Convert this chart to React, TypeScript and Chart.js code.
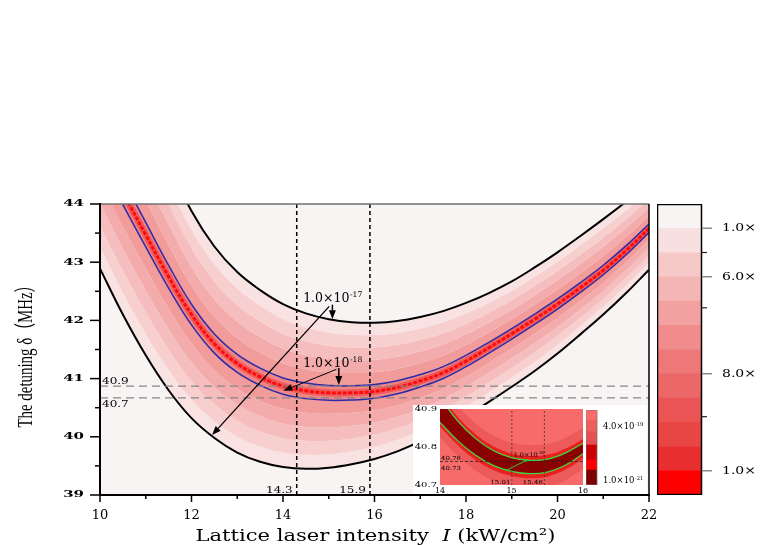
import React, { useEffect, useRef } from "react";
import { Chart, registerables } from "chart.js";
Chart.register(...registerables);

// ---------------- data ----------------
const intensity = [10, 10.5, 11, 11.5, 12, 12.5, 13, 13.5, 14, 14.5, 15, 15.5, 16, 16.5, 17, 17.5, 18, 18.5, 19, 19.5, 20, 20.5, 21, 21.5, 22];
const resonanceCenter = [44.95, 44.2, 43.47, 42.75, 42.1, 41.6, 41.26, 41.03, 40.87, 40.79, 40.755, 40.755, 40.78, 40.85, 40.96, 41.1, 41.3, 41.53, 41.77, 42.02, 42.28, 42.56, 42.86, 43.2, 43.58];
const contourUpper17 = [47.4, 46.5, 45.6, 44.7, 43.88, 43.27, 42.83, 42.52, 42.28, 42.12, 42.02, 41.97, 41.96, 41.99, 42.06, 42.16, 42.3, 42.47, 42.67, 42.91, 43.17, 43.45, 43.74, 44.04, 44.35];
const contourLower17 = [42.89, 42.1, 41.4, 40.8, 40.32, 39.98, 39.73, 39.57, 39.48, 39.45, 39.47, 39.53, 39.62, 39.75, 39.92, 40.12, 40.35, 40.6, 40.86, 41.13, 41.43, 41.76, 42.1, 42.47, 42.87];
// contour levels as fractions of the way from the resonance to the 1e-17 contour
const contourFractions = [1.0, 0.82, 0.64, 0.46, 0.28, 0.1];
const bandColors = ["#F9E2E2", "#F7CFCF", "#F5BDBD", "#F3ABAB", "#F19B9B", "#EF8585"];

const xMajorTicks = [10, 12, 14, 16, 18, 20, 22];
const xMinorTicks = [11, 13, 15, 17, 19, 21];
const yMajorTicks = [39, 40, 41, 42, 43, 44];
const yMinorTicks = [39.5, 40.5, 41.5, 42.5, 43.5];

const markerIntensity = [14.3, 15.9];
const markerIntensityLabels = ["14.3", "15.9"];
const markerDetuning = [40.87, 40.67];
const markerDetuningLabels = ["40.9", "40.7"];

const contourLabelBase = ["1.0×10", "1.0×10"];
const contourLabelExp = ["-17", "-18"];
const contourLabelPos = [[14.44, 42.32], [14.44, 41.2]];
const contourArrows = [
  [15.08, 42.27, 15.08, 42.02, 1.5],
  [15.01, 42.24, 12.45, 40.03, 1.3],
  [15.22, 41.18, 15.22, 40.89, 1.5],
  [15.17, 41.16, 14.01, 40.79, 1.0],
];

// colour bar
const colorbarColors = ["#FF0000", "#E82E2E", "#E84545", "#EA5454", "#EC6767", "#EE7878", "#F08C8C", "#F2A0A0", "#F4B5B5", "#F6C8C8", "#F9E0E0", "#F8F4F4"];
const colorbarSpans = [1, 1, 1, 1, 1, 1, 1, 1, 1, 1, 1, 1];
const colorbarMajorTicks = [11, 9, 5, 1];
const colorbarTickLabels = ["1.0×", "6.0×", "8.0×", "1.0×"];
const colorbarMinorTicks = [10, 7.72, 3.23];

// inset
const insetIntensity = [14, 14.25, 14.5, 14.75, 15, 15.25, 15.5, 15.75, 16];
const insetUpperGreen = [40.93, 40.868, 40.822, 40.79, 40.772, 40.765, 40.768, 40.784, 40.81];
const insetLowerGreen = [40.865, 40.816, 40.778, 40.751, 40.736, 40.73, 40.734, 40.752, 40.782];
const insetBandOffsets = [0.04, 0.012];
const insetBandColors = ["#EC5A5A", "#E82020", "#8B0000"];
const insetYTicks = [40.9, 40.8, 40.7];
const insetXTicks = [14, 15, 16];
const insetMarkerIntensity = [15.005, 15.46];
const insetMarkerIntensityLabels = ["15.01", "15.46"];
const insetMarkerDetuning = 40.762;
const insetDetuningLabels = ["40.76", "40.73"];
const insetArrow = [14.91, 40.737, 15.24, 40.768];
const insetColorbarColors = ["#7F0000", "#FF0000", "#CC0000", "#E65050", "#EE5E5E", "#FF6B6B"];
const insetColorbarSpans = [15, 10, 15, 13.3, 11.7, 10];
const insetColorbarLabelAt = [58.7, 4.7];
const insetColorbarLabelExp = ["-19", "-21"];
const insetColorbarLabelBase = ["4.0×10", "1.0×10"];

// ---------------- helpers ----------------
const SERIF = '"DejaVu Serif"';
const TIMES = '"Liberation Serif", "Noto Sans CJK SC"';
const CURVE = { cubicInterpolationMode: "default", tension: 0.4 };

function pts(xs: number[], ys: number[]) {
  return xs.map((x, i) => ({ x, y: ys[i] }));
}
function contourPts(t: number, outer: number[]) {
  return intensity.map((x, i) => ({ x, y: resonanceCenter[i] + t * (outer[i] - resonanceCenter[i]) }));
}
function seg(ctx: any, x1: number, y1: number, x2: number, y2: number) {
  ctx.beginPath();
  ctx.moveTo(x1, y1);
  ctx.lineTo(x2, y2);
  ctx.stroke();
}
function txt(ctx: any, s: string, x: number, y: number, font: string, align = "left", baseline = "alphabetic", sx = 1, sy = 1, color = "#000") {
  ctx.save();
  ctx.translate(x, y);
  ctx.scale(sx, sy);
  ctx.font = font;
  ctx.textAlign = align;
  ctx.textBaseline = baseline;
  ctx.fillStyle = color;
  ctx.fillText(s, 0, 0);
  ctx.restore();
}
function supTxt(ctx: any, base: string, sup: string, x: number, y: number, size: number) {
  ctx.save();
  ctx.fillStyle = "#000";
  ctx.textBaseline = "alphabetic";
  ctx.textAlign = "left";
  ctx.font = `${size}px ${SERIF}`;
  const w1 = ctx.measureText(base).width;
  ctx.fillText(base, x, y);
  ctx.font = `${size * 0.62}px ${SERIF}`;
  ctx.fillText(sup, x + w1 + 0.5, y - size * 0.42);
  ctx.restore();
}
function arrow(ctx: any, x1: number, y1: number, x2: number, y2: number, color: string, width: number, head: number) {
  const ang = Math.atan2(y2 - y1, x2 - x1);
  const bx = x2 - head * Math.cos(ang);
  const by = y2 - head * Math.sin(ang);
  ctx.save();
  ctx.strokeStyle = color;
  ctx.fillStyle = color;
  ctx.lineWidth = width;
  seg(ctx, x1, y1, bx, by);
  const hw = head * 0.38;
  ctx.beginPath();
  ctx.moveTo(x2, y2);
  ctx.lineTo(bx + hw * Math.sin(ang), by - hw * Math.cos(ang));
  ctx.lineTo(bx - hw * Math.sin(ang), by + hw * Math.cos(ang));
  ctx.closePath();
  ctx.fill();
  ctx.restore();
}

// ---------------- main chart ----------------
const mainDecor = {
  id: "mainDecor",
  beforeDraw(chart: any) {
    const { ctx, chartArea: a } = chart;
    ctx.save();
    ctx.fillStyle = "#F8F4F4";
    ctx.fillRect(a.left, a.top, a.right - a.left, a.bottom - a.top);
    ctx.restore();
  },
  afterDatasetsDraw(chart: any) {
    const { ctx, chartArea: a } = chart;
    const xs = chart.scales.x;
    const ys = chart.scales.y;
    ctx.save();
    ctx.strokeStyle = "#707070";
    ctx.lineWidth = 1.5;
    seg(ctx, a.left, a.top, a.right, a.top);
    ctx.strokeStyle = "#000";
    ctx.lineWidth = 1.5;
    seg(ctx, a.right, a.top, a.right, a.bottom);
    ctx.lineWidth = 2;
    seg(ctx, a.left, a.top - 1, a.left, a.bottom + 1);
    seg(ctx, a.left - 1, a.bottom, a.right + 1, a.bottom);
    ctx.lineWidth = 1.5;
    yMajorTicks.forEach((v) => {
      const py = ys.getPixelForValue(v);
      seg(ctx, a.left - 10, py, a.left, py);
      txt(ctx, String(v), a.left - 16, py, `bold 15px ${SERIF}`, "right", "middle", 1, 0.62);
    });
    yMinorTicks.forEach((v) => {
      const py = ys.getPixelForValue(v);
      seg(ctx, a.left - 5, py, a.left, py);
    });
    xMajorTicks.forEach((v) => {
      const px = xs.getPixelForValue(v);
      seg(ctx, px, a.bottom, px, a.bottom + 7);
      txt(ctx, String(v), px, a.bottom + 24, `13px ${SERIF}`, "center");
    });
    xMinorTicks.forEach((v) => {
      const px = xs.getPixelForValue(v);
      seg(ctx, px, a.bottom, px, a.bottom + 4);
    });
    markerIntensity.forEach((v, i) => {
      const px = xs.getPixelForValue(v);
      txt(ctx, markerIntensityLabels[i], px - 4, a.bottom - 2, `12px ${SERIF}`, "right", "alphabetic", 1, 0.8);
    });
    txt(ctx, markerDetuningLabels[0], a.left + 2, ys.getPixelForValue(markerDetuning[0]) - 2, `12px ${SERIF}`, "left", "alphabetic", 1, 0.8);
    txt(ctx, markerDetuningLabels[1], a.left + 2, ys.getPixelForValue(markerDetuning[1]) + 2, `12px ${SERIF}`, "left", "top", 1, 0.8);
    contourLabelBase.forEach((b, i) => {
      const [lx, ly] = contourLabelPos[i];
      supTxt(ctx, b, contourLabelExp[i], xs.getPixelForValue(lx), ys.getPixelForValue(ly), 12.5);
    });
    contourArrows.forEach(([x1, y1, x2, y2, w]) => {
      arrow(ctx, xs.getPixelForValue(x1), ys.getPixelForValue(y1), xs.getPixelForValue(x2), ys.getPixelForValue(y2), "#000", w, 9);
    });
    // x title
    ctx.font = `17px ${SERIF}`;
    const p1 = "Lattice laser intensity  ";
    const p3 = " (kW/cm²)";
    const w1 = ctx.measureText(p1).width;
    const w3 = ctx.measureText(p3).width;
    ctx.font = `italic 17px ${SERIF}`;
    const w2 = ctx.measureText("I").width;
    const sx = 360 / (w1 + w2 + w3);
    const cx = (a.left + a.right) / 2 + 1;
    ctx.save();
    ctx.translate(cx - 180, 541);
    ctx.scale(sx, 1);
    ctx.fillStyle = "#000";
    ctx.textAlign = "left";
    ctx.textBaseline = "alphabetic";
    ctx.font = `17px ${SERIF}`;
    ctx.fillText(p1, 0, 0);
    ctx.font = `italic 17px ${SERIF}`;
    ctx.fillText("I", w1, 0);
    ctx.font = `17px ${SERIF}`;
    ctx.fillText(p3, w1 + w2, 0);
    ctx.restore();
    // y title
    ctx.save();
    const yt = "The detuning δ（MHz）";
    ctx.font = `22px ${TIMES}`;
    const wy = ctx.measureText(yt).width;
    ctx.translate(26, (a.top + a.bottom) / 2 + 3);
    ctx.rotate(-Math.PI / 2);
    ctx.scale(150 / wy, 1);
    ctx.fillStyle = "#000";
    ctx.textAlign = "center";
    ctx.textBaseline = "middle";
    ctx.fillText(yt, 0, 0);
    ctx.restore();
    ctx.restore();
  },
};

function mainConfig(): any {
  const common = { borderWidth: 0, borderColor: "transparent", pointRadius: 0, ...CURVE, clip: 0, order: 5 };
  const datasets: any[] = [];
  for (let k = 0; k < contourFractions.length; k++) {
    datasets.push({ ...common, data: contourPts(contourFractions[k], contourUpper17), fill: "+1", backgroundColor: bandColors[k] });
  }
  for (let k = contourFractions.length - 1; k >= 0; k--) {
    datasets.push({ ...common, data: contourPts(contourFractions[k], contourLower17), fill: k === 0 ? false : "+1", backgroundColor: k > 0 ? bandColors[k - 1] : "transparent" });
  }
  const line = (data: any, color: string, width: number, order: number, extra: any = {}) => ({
    data, borderColor: color, borderWidth: width, pointRadius: 0, fill: false, ...CURVE, clip: 0, order, ...extra,
  });
  const blue = contourFractions[contourFractions.length - 1];
  datasets.push(line(pts(intensity, resonanceCenter), "rgba(242,55,55,0.55)", 7, 4));
  datasets.push(line(pts(intensity, resonanceCenter), "#FF0A0A", 3, 3, { borderDash: [4, 1.5] }));
  datasets.push(line(contourPts(blue, contourUpper17), "#2B2BA8", 1.5, 2));
  datasets.push(line(contourPts(blue, contourLower17), "#2B2BA8", 1.5, 2));
  datasets.push(line(pts(intensity, contourUpper17), "#000", 2, 1));
  datasets.push(line(pts(intensity, contourLower17), "#000", 2, 1));
  markerIntensity.forEach((v) => {
    datasets.push(line([{ x: v, y: 39 }, { x: v, y: 44 }], "#000", 1.5, 0, { borderDash: [4, 3], tension: 0 }));
  });
  markerDetuning.forEach((v) => {
    datasets.push(line([{ x: 10, y: v }, { x: 22, y: v }], "#858585", 1.2, 0, { borderDash: [8, 5], tension: 0 }));
  });
  return {
    type: "line",
    data: { datasets },
    options: {
      responsive: false,
      animation: false,
      events: [],
      layout: { padding: { left: 100, top: 204, right: 114, bottom: 50 } },
      plugins: { legend: { display: false }, tooltip: { enabled: false } },
      scales: {
        x: { type: "linear", min: 10, max: 22, display: false },
        y: { type: "linear", min: 39, max: 44, display: false },
      },
    },
    plugins: [mainDecor],
  };
}

// ---------------- colour bars ----------------
function colorbarConfig(colors: string[], spans: number[], padding: any, decor: any): any {
  const total = spans.reduce((s, v) => s + v, 0);
  return {
    type: "bar",
    data: {
      labels: [""],
      datasets: colors.map((c, i) => ({ data: [spans[i]], backgroundColor: c, borderWidth: 0, barPercentage: 1, categoryPercentage: 1 })),
    },
    options: {
      responsive: false,
      animation: false,
      events: [],
      layout: { padding },
      plugins: { legend: { display: false }, tooltip: { enabled: false } },
      scales: {
        x: { display: false, stacked: true },
        y: { display: false, stacked: true, min: 0, max: total },
      },
    },
    plugins: [decor],
  };
}

const mainBarDecor = {
  id: "mainBarDecor",
  afterDraw(chart: any) {
    const { ctx, chartArea: a } = chart;
    const ys = chart.scales.y;
    ctx.save();
    ctx.strokeStyle = "#000";
    ctx.lineWidth = 1.5;
    ctx.strokeRect(a.left + 0.5, a.top + 0.5, a.right - a.left - 1, a.bottom - a.top - 1);
    colorbarMajorTicks.forEach((v, i) => {
      const py = ys.getPixelForValue(v);
      ctx.strokeStyle = "#8a8a8a";
      ctx.lineWidth = 1.5;
      seg(ctx, a.right, py, a.right + 10, py);
      txt(ctx, colorbarTickLabels[i], a.right + 20, py, `14px ${SERIF}`, "left", "middle", 1, 0.78);
    });
    colorbarMinorTicks.forEach((v) => {
      const py = ys.getPixelForValue(v);
      ctx.strokeStyle = "#222";
      ctx.lineWidth = 1.2;
      seg(ctx, a.right, py, a.right + 5, py);
    });
    ctx.restore();
  },
};

const insetBarDecor = {
  id: "insetBarDecor",
  afterDraw(chart: any) {
    const { ctx, chartArea: a } = chart;
    const ys = chart.scales.y;
    ctx.save();
    ctx.strokeStyle = "#777";
    ctx.lineWidth = 0.8;
    ctx.strokeRect(a.left, a.top, a.right - a.left, a.bottom - a.top);
    insetColorbarLabelAt.forEach((v, i) => {
      const py = ys.getPixelForValue(v);
      supTxt(ctx, insetColorbarLabelBase[i], insetColorbarLabelExp[i], a.right + 6, py + 3, 8.5);
    });
    ctx.restore();
  },
};

// ---------------- inset chart ----------------
const insetDecor = {
  id: "insetDecor",
  beforeDraw(chart: any) {
    const { ctx, chartArea: a } = chart;
    ctx.save();
    ctx.fillStyle = "#F76B6B";
    ctx.fillRect(a.left, a.top, a.right - a.left, a.bottom - a.top);
    ctx.restore();
  },
  afterDatasetsDraw(chart: any) {
    const { ctx, chartArea: a } = chart;
    const xs = chart.scales.x;
    const ys = chart.scales.y;
    ctx.save();
    insetYTicks.forEach((v) => {
      txt(ctx, v.toFixed(1), a.left - 3, ys.getPixelForValue(v), `10px ${SERIF}`, "right", "middle", 1, 0.72);
    });
    insetXTicks.forEach((v) => {
      txt(ctx, String(v), xs.getPixelForValue(v), a.bottom + 8, `8px ${SERIF}`, "center", "alphabetic", 1, 0.8);
    });
    const hy = ys.getPixelForValue(insetMarkerDetuning);
    txt(ctx, insetDetuningLabels[0], a.left + 1, hy - 1.5, `7px ${SERIF}`, "left", "alphabetic", 1, 0.8);
    txt(ctx, insetDetuningLabels[1], a.left + 1, hy + 9, `7px ${SERIF}`, "left", "alphabetic", 1, 0.8);
    insetMarkerIntensity.forEach((v, i) => {
      txt(ctx, insetMarkerIntensityLabels[i], xs.getPixelForValue(v) - 1.5, a.bottom - 1, `7px ${SERIF}`, "right", "alphabetic", 1, 0.8);
    });
    supTxt(ctx, "1.0×10", "-20", xs.getPixelForValue(15.03), ys.getPixelForValue(40.774), 6.5);
    const [x1, y1, x2, y2] = insetArrow;
    arrow(ctx, xs.getPixelForValue(x1), ys.getPixelForValue(y1), xs.getPixelForValue(x2), ys.getPixelForValue(y2), "#33CC33", 1, 4);
    ctx.restore();
  },
};

function insetConfig(): any {
  const common = { borderWidth: 0, borderColor: "transparent", pointRadius: 0, ...CURVE, clip: 0, order: 5 };
  const off = (arr: number[], d: number) => insetIntensity.map((x, i) => ({ x, y: arr[i] + d }));
  const datasets: any[] = [
    { ...common, data: off(insetUpperGreen, insetBandOffsets[0]), fill: "+1", backgroundColor: insetBandColors[0] },
    { ...common, data: off(insetUpperGreen, insetBandOffsets[1]), fill: "+1", backgroundColor: insetBandColors[1] },
    { ...common, data: off(insetUpperGreen, 0), fill: "+1", backgroundColor: insetBandColors[2] },
    { ...common, data: off(insetLowerGreen, 0), fill: "+1", backgroundColor: insetBandColors[1] },
    { ...common, data: off(insetLowerGreen, -insetBandOffsets[1]), fill: "+1", backgroundColor: insetBandColors[0] },
    { ...common, data: off(insetLowerGreen, -insetBandOffsets[0]), fill: false },
  ];
  const line = (data: any, color: string, width: number, order: number, extra: any = {}) => ({
    data, borderColor: color, borderWidth: width, pointRadius: 0, fill: false, ...CURVE, clip: 0, order, ...extra,
  });
  datasets.push(line(pts(insetIntensity, insetUpperGreen), "#3DDC3D", 1.2, 1));
  datasets.push(line(pts(insetIntensity, insetLowerGreen), "#3DDC3D", 1.2, 1));
  insetMarkerIntensity.forEach((v) => {
    datasets.push(line([{ x: v, y: 40.7 }, { x: v, y: 40.9 }], "#333", 0.8, 0, { borderDash: [2, 2], tension: 0 }));
  });
  datasets.push(line([{ x: 14, y: insetMarkerDetuning }, { x: 16, y: insetMarkerDetuning }], "#222", 0.8, 0, { borderDash: [3, 2], tension: 0 }));
  return {
    type: "line",
    data: { datasets },
    options: {
      responsive: false,
      animation: false,
      events: [],
      layout: { padding: { left: 27, top: 4, right: 64, bottom: 9 } },
      plugins: { legend: { display: false }, tooltip: { enabled: false } },
      scales: {
        x: { type: "linear", min: 14, max: 16, display: false },
        y: { type: "linear", min: 40.7, max: 40.9, display: false },
      },
    },
    plugins: [insetDecor],
  };
}

export default function App() {
  const mainRef = useRef<HTMLCanvasElement>(null);
  const barRef = useRef<HTMLCanvasElement>(null);
  const insetRef = useRef<HTMLCanvasElement>(null);
  const insetBarRef = useRef<HTMLCanvasElement>(null);

  useEffect(() => {
    document.body.style.margin = "0";
    const charts = [
      new Chart(mainRef.current as HTMLCanvasElement, mainConfig()),
      new Chart(barRef.current as HTMLCanvasElement, colorbarConfig(colorbarColors, colorbarSpans, { left: 0, right: 61, top: 0, bottom: 0 }, mainBarDecor)),
      new Chart(insetRef.current as HTMLCanvasElement, insetConfig()),
      new Chart(insetBarRef.current as HTMLCanvasElement, colorbarConfig(insetColorbarColors, insetColorbarSpans, { left: 0, right: 50, top: 0, bottom: 0 }, insetBarDecor)),
    ];
    return () => charts.forEach((c) => c.destroy());
  }, []);

  const abs = (l: number, t: number): React.CSSProperties => ({ position: "absolute", left: l, top: t });
  return (
    <div style={{ position: "relative", width: 763, height: 545, background: "#fff", overflow: "hidden" }}>
      <canvas ref={mainRef} width={763} height={545} style={abs(0, 0)} />
      <canvas ref={barRef} width={106} height={291} style={abs(657, 204)} />
      <canvas ref={insetRef} width={234} height={89} style={{ ...abs(413, 405), background: "#fff" }} />
      <canvas ref={insetBarRef} width={61} height={75} style={abs(586, 410)} />
    </div>
  );
}
